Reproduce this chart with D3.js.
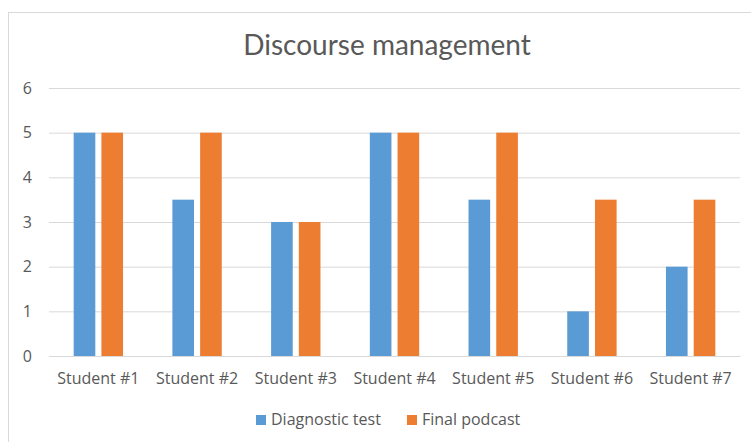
<!DOCTYPE html>
<html><head><meta charset="utf-8">
<script src="https://cdn.jsdelivr.net/npm/d3@7"></script>
<style>body{margin:0;background:#fff;} svg{display:block;}</style>
</head><body>
<svg id="c" width="751" height="442"></svg>
<script>
const categories = ["Student #1","Student #2","Student #3","Student #4","Student #5","Student #6","Student #7"];
const seriesNames = ["Diagnostic test","Final podcast"];
const diagnostic = [5, 3.5, 3, 5, 3.5, 1, 2];
const finalPodcast = [5, 5, 3, 5, 5, 3.5, 3.5];
const yTicks = [0,1,2,3,4,5,6];
const colors = ["#5B9BD5","#ED7D31"];
const title = "Discourse management";

const svg = d3.select("#c");
const textColor = "#595959";

// chart frame
svg.append("rect").attr("x",8.5).attr("y",12.5).attr("width",760).attr("height",460)
  .attr("fill","#fff").attr("stroke","#d9d9d9");

const pLeft = 49, pRight = 740, pTop = 88, pBottom = 356;
const x0 = d3.scaleBand().domain(categories).range([pLeft,pRight]).paddingInner(0.5).paddingOuter(0.25);
const x1 = d3.scaleBand().domain(seriesNames).range([0,x0.bandwidth()]).paddingInner(0.22);
const y = d3.scaleLinear().domain([0,6]).range([pBottom,pTop]);

// gridlines via axis
const yAxis = d3.axisLeft(y).tickValues(yTicks).tickSize(-(pRight-pLeft)).tickPadding(17).tickFormat(d3.format("d"));
const gy = svg.append("g").attr("transform",`translate(${pLeft},0)`).call(yAxis);
gy.select(".domain").remove();
gy.selectAll(".tick line").attr("stroke","#d9d9d9").attr("stroke-width",1);
gy.selectAll(".tick text").attr("fill",textColor).style("font-family","Open Sans").style("font-size","16px");

// bars
const data = categories.map((c,i)=>({c, vals:[diagnostic[i], finalPodcast[i]]}));
const groups = svg.append("g").selectAll("g").data(data).join("g")
  .attr("transform",d=>`translate(${x0(d.c)},0)`);
groups.selectAll("rect").data(d=>d.vals.map((v,j)=>({s:seriesNames[j],v,j}))).join("rect")
  .attr("x",d=>x1(d.s)).attr("width",x1.bandwidth())
  .attr("y",d=>y(d.v)).attr("height",d=>y(0)-y(d.v))
  .attr("fill",d=>colors[d.j]);

// x axis labels
const xAxis = d3.axisBottom(x0).tickSize(0).tickPadding(17);
const gx = svg.append("g").attr("transform",`translate(0,${pBottom})`).call(xAxis);
gx.select(".domain").attr("stroke","#d9d9d9");
gx.selectAll(".tick text").attr("fill",textColor).style("font-family","Open Sans").style("font-size","16px");

// title
svg.append("text").attr("x",387).attr("y",55).attr("text-anchor","middle")
  .attr("fill",textColor).style("font-family","Lato").style("font-size","28px").text(title);

// legend
const legendItems = [{name:seriesNames[0],x:256},{name:seriesNames[1],x:407}];
const lg = svg.append("g").selectAll("g").data(legendItems).join("g")
  .attr("transform",d=>`translate(${d.x},${415})`);
lg.append("rect").attr("x",0).attr("y",0).attr("width",10).attr("height",10).attr("fill",(d,i)=>colors[i]);
lg.append("text").attr("x",15).attr("y",10).attr("fill",textColor)
  .style("font-family","Open Sans").style("font-size","16px").text(d=>d.name);
</script>
</body></html>
